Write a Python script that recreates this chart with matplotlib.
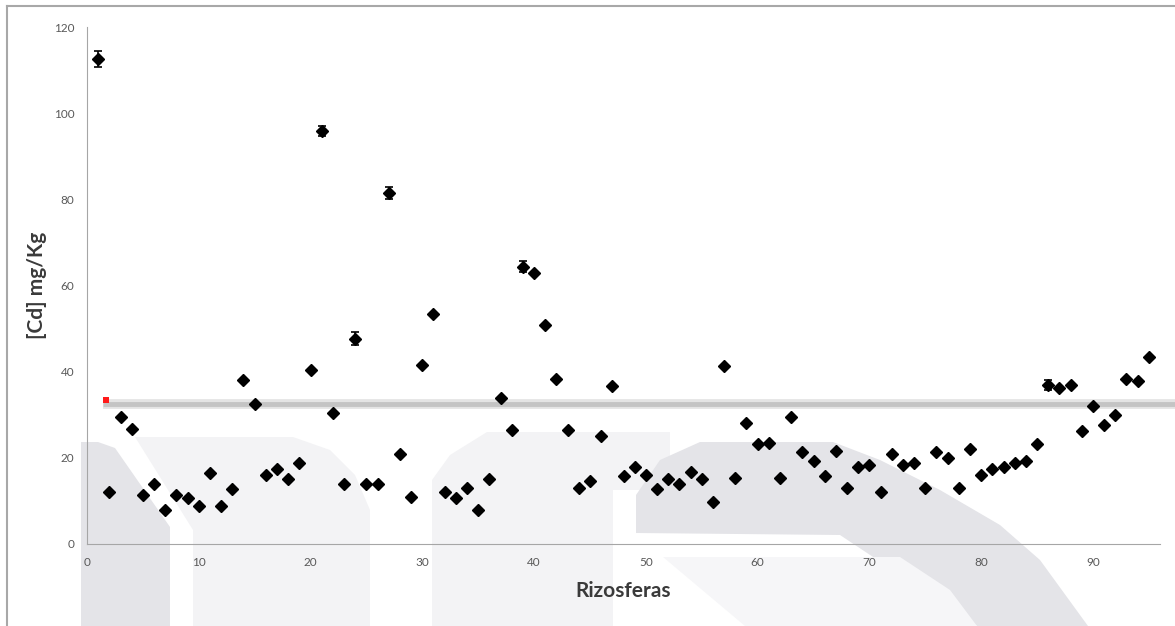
import numpy as np
import matplotlib.pyplot as plt
from matplotlib.patches import Polygon

plt.rcParams['font.family'] = ['Lato', 'DejaVu Sans']

# [Cd] por rizosfera (mg/Kg)
rizosfera = np.arange(1, 96)
cd = [
    112.6, 12.1, 29.5, 26.7, 11.4, 14.0, 7.8, 11.4, 10.7, 8.8,
    16.4, 8.9, 12.8, 38.1, 32.4, 16.0, 17.4, 15.0, 18.9, 40.3,
    95.8, 30.3, 13.9, 47.6, 13.9, 13.9, 81.4, 21.0, 11.0, 41.6,
    53.3, 12.1, 10.7, 13.1, 7.9, 15.0, 33.9, 26.4, 64.4, 62.8,
    50.8, 38.4, 26.4, 13.1, 14.7, 25.0, 36.7, 15.7, 17.9, 16.1,
    12.8, 15.0, 14.0, 16.8, 15.0, 9.7, 41.3, 15.3, 28.0, 23.1,
    23.4, 15.3, 29.5, 21.4, 19.3, 15.7, 21.7, 13.1, 17.9, 18.3,
    12.1, 21.0, 18.3, 18.9, 13.1, 21.4, 20.0, 13.1, 22.1, 16.1,
    17.5, 17.9, 18.9, 19.3, 23.1, 36.9, 36.3, 37.0, 26.3, 32.1,
    27.7, 29.9, 38.4, 37.8, 43.4,
]
# desviacion estandar (solo las apreciables)
err = np.zeros(len(cd))
err[[0, 20, 23, 26, 38, 85]] = [1.8, 1.2, 1.5, 1.4, 1.2, 1.1]

limite = 32.6
marca_x, marca_y = 1.7, 33.4

W, H = 1175, 626
fig = plt.figure(figsize=(W / 100, H / 100), dpi=100)


def px(points):
    return [(x / W, 1 - y / H) for x, y in points]


# marca de agua de fondo
dark = "#e4e4e8"
light = "#f3f3f5"
lighter = "#f6f6f8"
shapes = [
    ([(81, 442), (98, 442), (115, 448), (170, 527), (170, 626), (81, 626)], dark),
    ([(135, 437), (293, 437), (330, 450), (355, 475), (370, 510), (370, 626),
      (193, 626), (193, 530)], light),
    ([(432, 626), (432, 480), (450, 455), (487, 432), (670, 432), (670, 490),
      (613, 490), (613, 626)], light),
    ([(636, 533), (636, 495), (660, 460), (700, 442), (833, 442), (880, 460),
      (940, 490), (1000, 525), (1040, 560), (1088, 626), (977, 626), (840, 535)], dark),
    ([(663, 557), (900, 557), (950, 590), (977, 626), (745, 626)], lighter),
]
for pts, c in shapes:
    fig.patches.append(Polygon(px(pts), closed=True, transform=fig.transFigure,
                               facecolor=c, edgecolor="none", zorder=-5))

# marco
fig.add_artist(plt.Line2D([7 / W, 1], [1 - 5.5 / H, 1 - 5.5 / H],
                          transform=fig.transFigure, color="#a8a8a8", lw=1.5))
fig.add_artist(plt.Line2D([7 / W, 7 / W], [0, 1 - 5.5 / H],
                          transform=fig.transFigure, color="#a8a8a8", lw=1.5))

ax = fig.add_axes([87 / W, 1 - 544 / H, (1160 - 87) / W, (544 - 27) / H])
ax.set_facecolor("none")

ax.errorbar(rizosfera, cd, yerr=err, fmt="D", color="black", ms=6.5,
            ecolor="black", elinewidth=1.2, capsize=3, capthick=1.2, zorder=3)

# limite
ax.plot([1.4, 97.4], [limite, limite], color="#e4e4e4", lw=7,
        solid_capstyle="butt", clip_on=False, zorder=2)
ax.plot([1.4, 97.4], [limite, limite], color="#c4c4c4", lw=3.5,
        solid_capstyle="butt", clip_on=False, zorder=2)
ax.plot([marca_x], [marca_y], "s", color="#ff1a1a", ms=4, mew=0, zorder=3)

ax.set_xlim(0, 96)
ax.set_ylim(0, 120)
ax.set_xticks(range(0, 91, 10))
ax.set_yticks(range(0, 121, 20))
for s in ["top", "right"]:
    ax.spines[s].set_visible(False)
ax.spines["left"].set_color("#a6a6a6")
ax.spines["bottom"].set_color("#a6a6a6")
ax.tick_params(length=0, labelsize=8.5, labelcolor="#595959", pad=9)

ax.set_xlabel("Rizosferas", fontsize=15, fontweight="bold", color="#3a3a3a", labelpad=10)
ax.set_ylabel("[Cd] mg/Kg", fontsize=15, fontweight="bold", color="#3a3a3a", labelpad=5)

fig.savefig("out.png", dpi=100)
